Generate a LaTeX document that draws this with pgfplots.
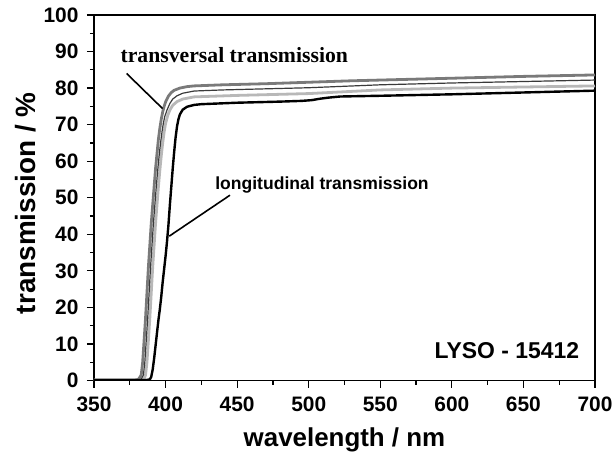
\documentclass[border=0pt]{standalone}
\usepackage{fontspec}
\setmainfont{Liberation Sans}
\newfontfamily\serifbold{Liberation Serif}
\usepackage{pgfplots}
\pgfplotsset{compat=1.18}
\usepackage{pgfplotstable}

\definecolor{trA}{HTML}{7A7A7A}
\definecolor{trB}{HTML}{3A3A3A}
\definecolor{trC}{HTML}{B8B8B8}

% transversal transmission, three positions
\pgfplotstableread{
wl T
350 0.1
378 0.1
381 0.3
383 1.5
384 5
385 11
386 17
387 24
388 31
389 37
390 43
391 48
392 53
393 58
394 62
395 66
396 69
397 71.5
398 73.5
399 75
400 76.2
402 77.8
404 78.8
406 79.4
410 80.0
415 80.4
420 80.6
440 80.9
470 81.2
500 81.6
530 82.0
560 82.3
600 82.7
650 83.2
700 83.6
}\transA

\pgfplotstableread{
wl T
350 0.1
380 0.1
383 0.4
384.5 1.5
385.5 5
386.5 11
387.5 17
388.5 24
389.5 31
390.5 37
391.5 43
392.5 48
393.5 53
394.5 57.5
395.5 61.5
396.5 65
397.5 68
398.5 70.5
399.5 72.3
401 74
403 75.8
405 77
408 77.9
412 78.6
420 79.2
440 79.5
470 79.8
500 80.1
550 80.9
600 81.4
650 81.8
700 82.2
}\transB

\pgfplotstableread{
wl T
350 0.1
382 0.1
385 0.4
386 1.5
387 5
388 11
389 17
390 24
391 31
392 37
393 43
394 48
395 53
396 57.5
397 61.5
398 65
399 68
400 70.3
401.5 72.5
403 74
405 75.3
408 76.3
412 77.0
420 77.6
450 78.0
500 78.5
550 79.5
600 80.0
650 80.3
700 80.6
}\transC

% longitudinal transmission
\pgfplotstableread{
wl T
350 0.1
386 0.1
389 0.3
390 1
391 3
392 6
393 9.5
394 13
395 16.5
396 19.5
397 23
398 27
399 30.5
400 34
401 38
402 42.5
403 48
404 53
405 58
406 62.5
407 66.5
408 69.5
409 71.5
410 72.8
412 74.1
415 74.9
420 75.4
425 75.6
450 76.0
480 76.3
495 76.5
502 76.7
508 77.1
514 77.4
522 77.7
550 77.9
600 78.3
650 78.8
700 79.3
}\longit

\begin{document}
\begin{tikzpicture}
\begin{axis}[
  scale only axis,
  width=501bp, height=365.5bp,
  xmin=350, xmax=700, ymin=0, ymax=100,
  xtick={350,400,...,700},
  ytick={0,10,...,100},
  minor x tick num=1,
  minor y tick num=1,
  tick align=outside,
  xtick pos=left, ytick pos=left,
  major tick length=7bp,
  minor tick length=4bp,
  axis line style={line width=1.5bp},
  every tick/.style={line width=1.2bp, black},
  /pgf/number format/assume math mode=true,
  tick label style={font=\fontsize{21}{24}\selectfont\bfseries},
  xticklabel style={yshift=-6bp},
  yticklabel style={xshift=-5bp},
  xlabel={wavelength / nm},
  ylabel={transmission / \%},
  xlabel style={font=\fontsize{26}{29}\selectfont\bfseries,
    at={(axis description cs:0.5,0)}, anchor=base, yshift=-65.5bp},
  ylabel style={font=\fontsize{28}{31}\selectfont\bfseries,
    at={(axis description cs:0,0.485)}, anchor=base, yshift=58bp},
  clip=true,
]
\addplot[trC, line width=2.8bp] table[x=wl, y=T] {\transC};
\addplot[trB, line width=1.2bp] table[x=wl, y=T] {\transB};
\addplot[trA, line width=2.8bp] table[x=wl, y=T] {\transA};
\addplot[black, line width=2.4bp] table[x=wl, y=T] {\longit};

\draw[line width=1.6bp] (axis cs:372.8,84.0) -- (axis cs:397.9,74.4);
\draw[line width=1.6bp] (axis cs:445,50.7) -- (axis cs:402.6,39.5);

\node[anchor=base, font=\serifbold\fontsize{21.8}{24}\selectfont\bfseries]
  at (axis cs:448,87.1) {transversal transmission};
\node[anchor=base, font=\fontsize{17.6}{20}\selectfont\bfseries]
  at (axis cs:509.3,52.3) {longitudinal transmission};
\node[anchor=base east, font=\fontsize{23}{26}\selectfont\bfseries, inner sep=0pt]
  at (axis cs:689,5.9) {LYSO - 15412};
\end{axis}
\pgfresetboundingbox
\path[use as bounding box] (-94bp,-73.5bp) rectangle (522bp,380.5bp);
\end{tikzpicture}
\end{document}
